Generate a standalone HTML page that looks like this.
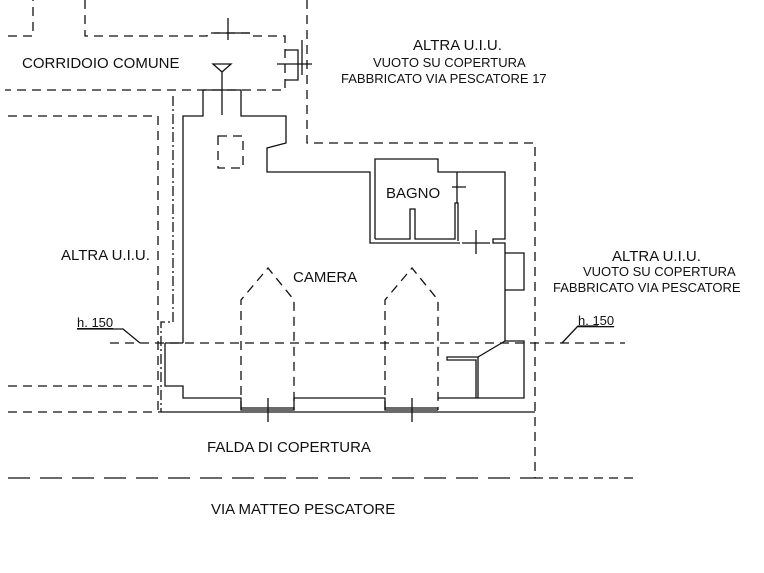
<!DOCTYPE html>
<html><head><meta charset="utf-8"><style>
html,body{margin:0;padding:0;background:#fff;}
svg{display:block;font-family:"Liberation Sans",sans-serif;}
text{fill:#111;}
</style></head><body>
<svg width="764" height="573" viewBox="0 0 764 573" xmlns="http://www.w3.org/2000/svg">
<g fill="none" stroke="#111" stroke-width="1.3">
<g stroke-dasharray="9,6">
<path d="M8 36 H33 V0"/>
<path d="M85 0 V36 H207 V33 H250 V36 H285 V90 H5"/>
<path d="M307 0 V143 H535 V478 H635"/>
<path d="M8 116 H158 V412"/>
<path d="M8 386 H158"/>
<path d="M8 412 H160"/>
<path d="M110 343 H625"/>
<path d="M218 136 H243 V168 H218 Z"/>
<path d="M241 410 V300 L268 268 L294 300 V410"/>
<path d="M385 410 V300 L412 268 L438 300 V410"/>
</g>
<path d="M8 478 H535" stroke-dasharray="22,10"/>
<path d="M173 96 V322 H161 V412" stroke-dasharray="10,3,2,3"/>
<path d="M183 343 V116 H203 V90 H241 V116 H286 V143 L267 148 V172 H370 V243 H460"/>
<path d="M375 239 V159 H438 V172 H505 V239 H493 V243 H505 V341 H524 V398 H438"/>
<path d="M375 239 H410 V209 H415 V239 H455 V203 H458 V241"/>
<path d="M505 253 H524 V290 H505"/>
<path d="M505 341 L478 357 H447 V360 H476 V398 M478 357 V398"/>
<path d="M165 343 H183 M165 343 V386 H183 V398 H241 V410 H294 V398 H385 V410 H438"/>
<path d="M241 408 H294 M385 408 H438"/>
<path d="M160 412 H535"/>
<path d="M268 398 V422 M412 398 V422"/>
<path d="M476 230 V254 M462 243 H490"/>
<path d="M452 187 H466 M457 172 V203"/>
<path d="M285 50 H298 V80 H285 M298 58 V80 M277 64 H312 M302 40 V75"/>
<path d="M228 18 V40 M214 33 H250"/>
<path d="M213 64 H231 L222 72 Z M222 72 V115"/>
<path d="M77 329 H123 L140 343"/>
<path d="M578 326 H598 M578 326 L562 343"/>
</g>
<g font-size="15">
<text x="22" y="68">CORRIDOIO COMUNE</text>
<text x="413" y="50">ALTRA U.I.U.</text>
<text x="386" y="198">BAGNO</text>
<text x="293" y="282">CAMERA</text>
<text x="61" y="260">ALTRA U.I.U.</text>
<text x="612" y="261">ALTRA U.I.U.</text>
<text x="207" y="452">FALDA DI COPERTURA</text>
<text x="211" y="514">VIA MATTEO PESCATORE</text>
</g>
<g font-size="13">
<text x="373" y="67">VUOTO SU COPERTURA</text>
<text x="341" y="83">FABBRICATO VIA PESCATORE 17</text>
<text x="583" y="276">VUOTO SU COPERTURA</text>
<text x="553" y="292">FABBRICATO VIA PESCATORE</text>
<text x="77" y="327" text-decoration="underline">h. 150</text>
<text x="578" y="325" text-decoration="underline">h. 150</text>
</g>
</svg>
</body></html>
